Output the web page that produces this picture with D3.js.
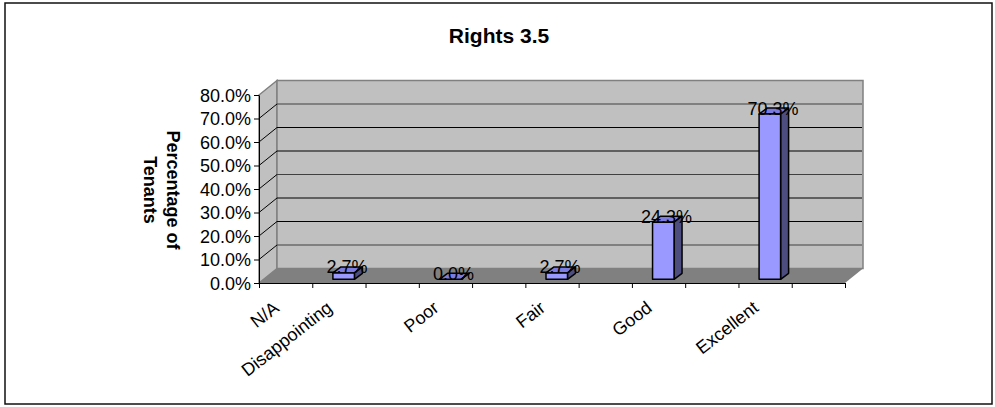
<!DOCTYPE html>
<html><head><meta charset="utf-8">
<script src="https://cdnjs.cloudflare.com/ajax/libs/d3/7.8.5/d3.min.js"></script>
<style>html,body{margin:0;padding:0;background:#fff}svg{display:block}text{font-family:"Liberation Sans",Arial,sans-serif;fill:#000}</style>
</head><body><svg id="c" width="995" height="407"></svg>
<script>
const categories=["N/A","Disappointing","","Poor","","Fair","","Good","","Excellent",""];
const values=[null,2.7,null,0,null,2.7,null,24.3,null,70.3,null];
const valueLabels=["","2.7%","","0.0%","","2.7%","","24.3%","","70.3%",""];
const yTicks=[0,10,20,30,40,50,60,70,80];
const title="Rights 3.5";
const yTitle=["Percentage of","Tenants"];

const svg=d3.select("#c");
const W=[259,845],H=[283,95],dx=18,dy=-14.5;
const x=d3.scaleBand().domain(d3.range(categories.length)).range(W).paddingInner(0).paddingOuter(0);
const y=d3.scaleLinear().domain([0,80]).range(H);
const P=pts=>pts.map(p=>p.join(",")).join(" ");

svg.append("rect").attr("x",5).attr("y",3).attr("width",987).attr("height",401).attr("fill","#fff").attr("stroke","#111").attr("stroke-width",1.5);
svg.append("text").attr("x",499).attr("y",43).attr("text-anchor","middle").attr("font-size",21).attr("font-weight","bold").text(title);

// walls
const wallC="#c0c0c0",edge="#808080";
svg.append("polygon").attr("points",P([[W[0],H[0]],[W[0]+dx,H[0]+dy],[W[0]+dx,H[1]+dy],[W[0],H[1]]])).attr("fill",wallC).attr("stroke",edge).attr("stroke-width",1.5);
svg.append("rect").attr("x",W[0]+dx).attr("y",H[1]+dy).attr("width",W[1]-W[0]).attr("height",H[0]-H[1]).attr("fill",wallC).attr("stroke",edge).attr("stroke-width",1.5);
svg.append("polygon").attr("points",P([[W[0],H[0]],[W[1],H[0]],[W[1]+dx,H[0]+dy],[W[0]+dx,H[0]+dy]])).attr("fill",edge);

// gridlines
yTicks.slice(1,-1).forEach(t=>{
  svg.append("line").attr("x1",W[0]+dx).attr("x2",W[1]+dx-1).attr("y1",y(t)+dy).attr("y2",y(t)+dy).attr("stroke",t%30==10?"#404040":"#000").attr("stroke-width",1);
  svg.append("line").attr("x1",W[0]).attr("x2",W[0]+dx).attr("y1",y(t)).attr("y2",y(t)+dy).attr("stroke","#000");
});

// axes
const yAxis=d3.axisLeft(y).tickValues(yTicks).tickSize(5).tickSizeOuter(0).tickFormat(d=>d.toFixed(1)+"%");
const gy=svg.append("g").attr("transform",`translate(${W[0]},0)`).call(yAxis);
gy.selectAll("text").attr("font-size",18).attr("x",-8).attr("dy","0.36em");
const xT=d3.scaleLinear().domain([0,categories.length]).range(W);
const xAxis=d3.axisBottom(xT).tickValues(d3.range(categories.length+1)).tickSize(5).tickSizeOuter(0).tickFormat("");
svg.append("g").attr("transform",`translate(0,${H[0]})`).call(xAxis);
svg.selectAll("g path.domain").attr("stroke","#000").attr("stroke-width",1);
svg.selectAll("g .tick line").attr("stroke","#000");

// category labels
svg.append("g").selectAll("text").data(categories).join("text")
 .attr("text-anchor","end").attr("font-size",18)
 .attr("transform",(d,i)=>`translate(${x(i)+x.bandwidth()/2-5.5},${H[0]+27}) rotate(-38)`)
 .text(d=>d);

// bars
const bw=21.5,bd=8,bdy=-6,fy=-3.7;
const bars=svg.append("g");
values.forEach((v,i)=>{
  if(v===null)return;
  const l=x(i)+x.bandwidth()/2-6,r=l+bw,b=y(0)+fy,t=y(v)+fy;
  const g=bars.append("g").attr("stroke","#000").attr("stroke-width",1.5).attr("stroke-linejoin","round");
  g.append("polygon").attr("points",P([[l,t],[r,t],[r+bd,t+bdy],[l+bd,t+bdy]])).attr("fill","#7c7ce0");
  g.append("polygon").attr("points",P([[r,b],[r+bd,b+bdy],[r+bd,t+bdy],[r,t]])).attr("fill","#4d4d80");
  g.append("rect").attr("x",l).attr("y",t).attr("width",bw).attr("height",b-t).attr("fill","#9999ff");
});
// value labels
svg.append("g").selectAll("text").data(values.map((v,i)=>[v,i]).filter(d=>d[0]!==null)).join("text")
 .attr("text-anchor","middle").attr("font-size",18)
 .attr("x",d=>x(d[1])+x.bandwidth()/2+8)
 .attr("y",d=>y(d[0])+fy+0.5)
 .text(d=>valueLabels[d[1]]);
// axis title
svg.append("text").attr("font-size",18).attr("font-weight","bold").attr("text-anchor","middle")
 .attr("transform","translate(166.5,190) rotate(90)")
 .selectAll("tspan").data(yTitle).join("tspan").attr("x",0).attr("dy",(d,i)=>i?23:0).text(d=>d);
</script></body></html>
